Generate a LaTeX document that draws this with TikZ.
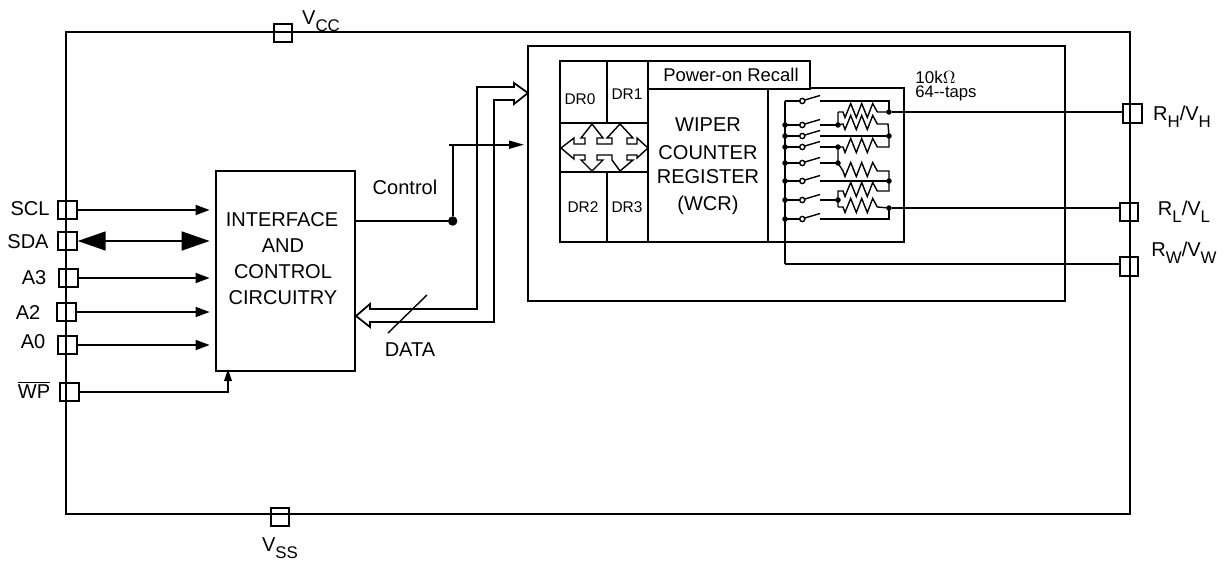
\documentclass[tikz,border=0pt]{standalone}
\usepackage{fontspec}
\setmainfont{Liberation Sans}
\usetikzlibrary{arrows.meta}
\newcommand{\lowtext}[1]{\raisebox{-.65ex}{\fontsize{9.6}{12}\selectfont #1}}
\newcommand{\resistor}{-- ++(2,5.5) -- ++(5.7,-14) -- ++(5.6,14) -- ++(5.4,-14) -- ++(5.6,14) -- ++(5.4,-14) -- ++(4.6,8.5)}
\tikzset{
  wire/.style={line width=1pt},
  finewire/.style={line width=.8pt},
  thickwire/.style={line width=1.2pt},
  pinbox/.style={draw,line width=1.1pt,minimum size=.37cm,inner sep=0},
  txt/.style={inner sep=0,font=\fontsize{11.4}{13}\selectfont},
  smalltxt/.style={inner sep=0,font=\fontsize{8.8}{10}\selectfont},
  pinarrow/.style={wire,-{Stealth[length=.28cm,width=.2cm,inset=0pt]},shorten >=.1cm},
  bigarrow/.style={wire,{Stealth[length=.56cm,width=.38cm,inset=0pt]}-{Stealth[length=.56cm,width=.38cm,inset=0pt]},shorten >=.1cm},
  junction/.style={circle,fill=black,inner sep=0,minimum size=.11cm}
}
\begin{document}
\begin{tikzpicture}[x=.02cm,y=-.02cm]
\useasboundingbox (0,0) rectangle (1225,561);

% outer chip and memory block
\draw[line width=1.1pt] (66,32) rectangle (1130,514);
\draw[line width=1.1pt] (528,46) rectangle (1065,301);

% pins
\node[pinbox] (vcc) at (283,33)     {};
\node[pinbox] (vss) at (280,517)    {};
\node[pinbox] (scl) at (67.5,210)   {};
\node[pinbox] (sda) at (67.5,241)   {};
\node[pinbox] (a3)  at (68.5,278)   {};
\node[pinbox] (a2)  at (66.5,312)   {};
\node[pinbox] (a0)  at (67.5,345)   {};
\node[pinbox] (wp)  at (69.5,392)   {};
\node[pinbox] (rh)  at (1132.5,113.5) {};
\node[pinbox] (rl)  at (1129,212)   {};
\node[pinbox] (rw)  at (1129,266.5) {};

\node[txt] (vcclabel) at (321,21)   {V\lowtext{CC}};
\node[txt] (vsslabel) at (280,548)  {V\lowtext{SS}};
\node[txt] (scllabel) at (30,209)   {SCL};
\node[txt] (sdalabel) at (28,242)   {SDA};
\node[txt] (a3label)  at (34,278)   {A3};
\node[txt] (a2label)  at (28,313)   {A2};
\node[txt] (a0label)  at (33,342)   {A0};
\node[txt] (wplabel)  at (34,390)   {$\overline{\mbox{WP}}$};
\node[txt] (rhlabel)  at (1182,117) {R\lowtext{H}/V\lowtext{H}};
\node[txt] (rllabel)  at (1184,212) {R\lowtext{L}/V\lowtext{L}};
\node[txt] (rwlabel)  at (1184,253) {R\lowtext{W}/V\lowtext{W}};

% interface block
\node[draw,line width=1.6pt,minimum width=2.78cm,minimum height=4cm,inner sep=0] (iface) at (285.5,271) {};
\node[txt] (ifline1) at (282,220) {INTERFACE};
\node[txt] (ifline2) at (283,246) {AND};
\node[txt] (ifline3) at (283,272) {CONTROL};
\node[txt] (ifline4) at (283,298) {CIRCUITRY};

\draw[pinarrow] (scl.east) -- (scl.east -| iface.west);
\draw[bigarrow] (sda.east) -- (sda.east -| iface.west);
\draw[pinarrow] (a3.east)  -- (a3.east -| iface.west);
\draw[pinarrow] (a2.east)  -- (a2.east -| iface.west);
\draw[pinarrow] (a0.east)  -- (a0.east -| iface.west);
\coordinate (wptip) at (228,369);
\draw[wire,-{Stealth[length=.24cm,width=.15cm,inset=0pt]}] (wp.east) -| (wptip);

% control line
\node[junction,minimum size=.19cm] (ctrldot) at (452.7,221) {};
\coordinate (ctrltop) at (452.7,144.7);
\coordinate (ctrlstub) at (449,144.7);
\coordinate (ctrlend) at (524,144.7);
\draw[wire] (iface.east |- ctrldot) -- (ctrldot) -- (ctrltop);
\draw[wire,-{Stealth[length=.3cm,width=.16cm,inset=0pt]}] (ctrlstub) -- (ctrlend);
\node[txt] (ctrllabel) at (405,187) {Control};

% data bus
\draw[wire] (494,322) -- (370,322) -- (370,327) -- (356,316) -- (370,304) -- (370,309) -- (477,309)
  -- (477,87) -- (514,87) -- (514,83) -- (528,93) -- (514,104) -- (514,100) -- (494,100) -- cycle;
\draw[finewire] (388,333) -- (427,295);
\node[txt] (datalabel) at (410,350) {DATA};

% data registers and counter
\draw[thickwire] (560,61) rectangle (648,242);
\draw[thickwire] (607,61) -- (607,123);
\draw[thickwire] (607,172) -- (607,242);
\draw[thickwire] (560,123) -- (648,123);
\draw[thickwire] (560,172) -- (648,172);
\draw[thickwire] (648,61) -- (810,61) -- (810,89) -- (648,89);
\draw[thickwire] (648,242) -- (904,242) -- (904,88) -- (810,88);
\draw[thickwire] (768,89) -- (768,242);
\node[smalltxt] (dr0) at (580,99)  {DR0};
\node[smalltxt] (dr1) at (627,94)  {DR1};
\node[smalltxt] (dr2) at (583,207) {DR2};
\node[smalltxt] (dr3) at (627,207) {DR3};
\node[txt,font=\fontsize{10.5}{12}\selectfont] (recall) at (731,75) {Power-on Recall};
\node[txt] (wcr1) at (708,125) {WIPER};
\node[txt] (wcr2) at (708,153) {COUNTER};
\node[txt] (wcr3) at (708,177) {REGISTER};
\node[txt] (wcr4) at (708,205) {(WCR)};

% double headed cross between the registers
\draw[finewire] (561,148) -- (574,138) -- (574,144) -- (585,144) -- (585,138) -- (581,138) -- (592,124)
  -- (603,138) -- (597,138) -- (597,144) -- (612,144) -- (612,138) -- (607,138) -- (620,124)
  -- (633,138) -- (627,138) -- (627,144) -- (637,144) -- (637,138) -- (648,148) -- (637,158)
  -- (637,155) -- (627,155) -- (627,160) -- (633,160) -- (620,171) -- (612,160) -- (612,155)
  -- (597,155) -- (597,160) -- (603,160) -- (592,171) -- (581,160) -- (585,160) -- (585,155)
  -- (574,155) -- (574,159) -- cycle;

% wiper switches
\draw[wire] (785,101) -- (799.7,101) (820,101) -- (889,101) -- (889,112);
\draw[wire] (785,125) -- (799.7,125) (820,125) -- (838,125);
\draw[wire] (785,136) -- (799.7,136) (820,136) -- (889,136);
\draw[wire] (785,147) -- (799.7,147) (820,147) -- (838,147);
\draw[wire] (785,163) -- (799.7,163) (820,163) -- (838,163);
\draw[wire] (785,181) -- (799.7,181) (820,181) -- (889,181);
\draw[wire] (785,200) -- (799.7,200) (820,200) -- (838,200);
\draw[wire] (785,219) -- (799.7,219) (820,219) -- (889,219) -- (889,208);
\draw[finewire] (802.3,101) circle(2.6) (804.9,100) -- (820,95.5);
\draw[finewire] (802.3,125) circle(2.6) (804.9,124) -- (820,119.5);
\draw[finewire] (802.3,136) circle(2.6) (804.9,135) -- (820,130.5);
\draw[finewire] (802.3,147) circle(2.6) (804.9,146) -- (820,141.5);
\draw[finewire] (802.3,163) circle(2.6) (804.9,162) -- (820,157.5);
\draw[finewire] (802.3,181) circle(2.6) (804.9,180) -- (820,175.5);
\draw[finewire] (802.3,200) circle(2.6) (804.9,199) -- (820,194.5);
\draw[finewire] (802.3,219) circle(2.6) (804.9,218) -- (820,213.5);

% resistor ladder
\draw[finewire] (838,112) -- (843,112) \resistor -- (889,112);
\draw[finewire] (838,112) -- (838,125) -- (843,124) \resistor -- (888,124) -- (889,136);
\draw[finewire] (838,147) -- (843,147) \resistor -- (889,147) -- (889,136);
\draw[finewire] (838,147) -- (838,163) -- (843,171) \resistor -- (889,171) -- (889,181);
\draw[finewire] (838,207) -- (838,191) -- (843,191) \resistor -- (889,191) -- (889,181);
\draw[finewire] (838,207) -- (843,207) \resistor -- (889,208);

% junctions
\draw[wire] (785,101) -- (785,264);
\node[junction] (lj2) at (785,125) {};
\node[junction] (lj3) at (785,136) {};
\node[junction] (lj4) at (785,147) {};
\node[junction] (lj5) at (785,163) {};
\node[junction] (lj6) at (785,181) {};
\node[junction] (lj7) at (785,200) {};
\node[junction] (lj8) at (785,219) {};
\node[junction] (mj1) at (838,125) {};
\node[junction] (mj2) at (838,147) {};
\node[junction] (mj3) at (838,163) {};
\node[junction] (mj4) at (838,200) {};
\node[junction] (hj)  at (889,112) {};
\node[junction] (rj1) at (889,136) {};
\node[junction] (rj2) at (889,181) {};
\node[junction] (lj)  at (889,208) {};
\coordinate (wbend) at (785,264);

\draw[wire] (hj) -- (hj -| rh.west);
\draw[wire] (lj) -- (lj -| rl.west);
\draw[wire] (wbend) -- (wbend -| rw.west);

\node[txt,anchor=west,font=\fontsize{9.7}{11}\selectfont] (ohms) at (915,77) {10k$\Omega$};
\node[txt,anchor=west,font=\fontsize{9.5}{11}\selectfont] (taps) at (915,93) {64-{}-taps};
\end{tikzpicture}
\end{document}
